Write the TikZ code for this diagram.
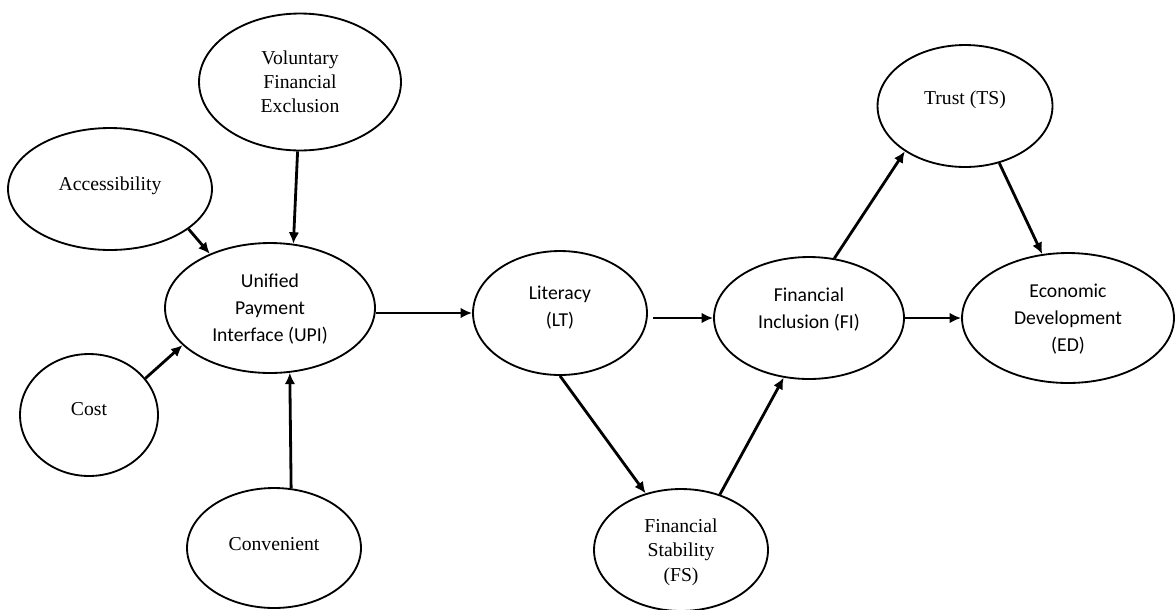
\documentclass[tikz,border=0pt]{standalone}
\usepackage{fontspec}
\setmainfont{Liberation Serif}
\newfontfamily\calfont{Carlito}
\usetikzlibrary{shapes.geometric,arrows.meta}

\tikzset{
  oval/.style={draw, ellipse, line width=1.05pt, inner sep=0pt, align=center,
    font=\fontsize{11.2}{13.8}\selectfont},
  ovalsans/.style={oval, font=\calfont\fontsize{11.2}{15.3}\selectfont},
  link/.style={line width=1.6pt, -{Latex[length=6.5pt,width=6pt]}}
}

\begin{document}
\begin{tikzpicture}[x=0.02cm, y=-0.02cm]
\useasboundingbox (0,0) rectangle (1175,609);

% drivers of UPI
\node[oval, minimum width=4.04cm, minimum height=2.74cm] (vfe) at (300,82) {Voluntary\\Financial\\Exclusion};
\node[oval, minimum width=4.08cm, minimum height=2.44cm, text depth=6pt] (acc) at (110,189) {Accessibility};
\node[oval, minimum width=2.76cm, minimum height=2.44cm, text depth=7pt] (cost) at (89,415) {Cost};
\node[oval, minimum width=3.48cm, minimum height=2.4cm, text depth=4.6pt] (conv) at (274,548) {Convenient};
\node[ovalsans, minimum width=4.2cm, minimum height=2.6cm, text depth=-7.5pt] (upi) at (270,308) {Unified\\Payment\\Interface (UPI)};

% outcomes
\node[ovalsans, minimum width=3.48cm, minimum height=2.48cm, text depth=8pt] (lt) at (560,313) {Literacy\\(LT)};
\node[oval, minimum width=3.48cm, minimum height=2.44cm, text depth=-6.5pt] (fs) at (681,550) {Financial\\Stability\\(FS)};
\node[ovalsans, minimum width=3.8cm, minimum height=2.44cm, text depth=11pt] (fi) at (809,318) {Financial\\Inclusion (FI)};
\node[oval, minimum width=3.5cm, minimum height=2.44cm, text depth=10pt] (ts) at (965,106) {Trust (TS)};
\node[ovalsans, minimum width=4.24cm, minimum height=2.6cm, text depth=-8pt] (ed) at (1068,318) {Economic\\Development\\(ED)};

% arrows
\draw[link] (vfe.268) -- (upi.70);
\draw[link] (acc.-27) -- (upi.138);
\draw[link] (cost.33) -- (upi.203);
\draw[link] (conv.74) -- (upi.-73);
\draw[link] (lt.west -| upi.east) -- (lt.west);
\draw[link, shorten <=3pt] (lt.east |- fi.west) -- (fi.west);
\draw[link] (lt.south) -- (fs.122);
\draw[link] (fs.55) -- (fi.247);
\draw[link] (fi.67) -- (ts.217);
\draw[link] (ts.-59) -- (ed.112);
\draw[link] (fi.east) -- (ed.west);
\end{tikzpicture}
\end{document}
